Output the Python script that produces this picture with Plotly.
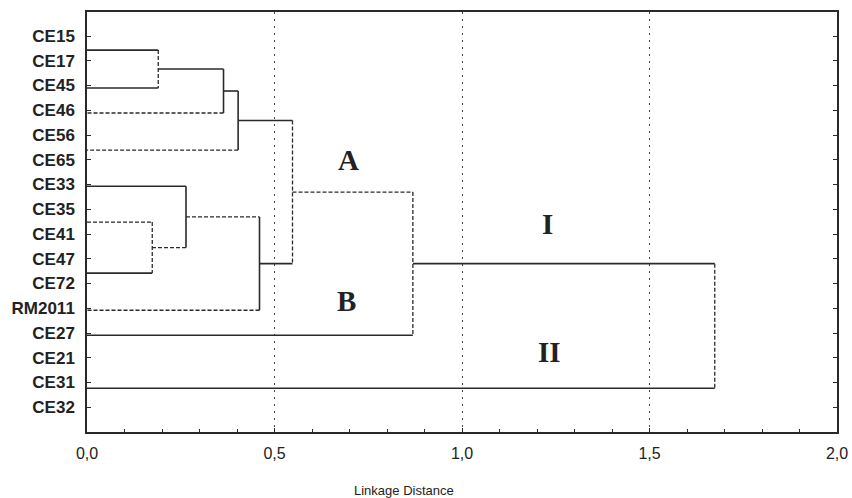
import plotly.graph_objects as go

# ---- data ----
labels = ["CE15", "CE17", "CE45", "CE46", "CE56", "CE65", "CE33", "CE35",
          "CE41", "CE47", "CE72", "RM2011", "CE27", "CE21", "CE31", "CE32"]
# rows (in label-index units) at which the drawn leaf branches sit
leaf_rows = [0.57, 2.10, 3.11, 4.61, 6.07, 7.52, 9.58, 11.08, 12.09, 14.23]
merge_left = ["L0", "M0", "M1", "L5", "L4", "M4", "M2", "M6", "M7"]
merge_right = ["L1", "L2", "L3", "L6", "M3", "L7", "M5", "L8", "L9"]
merge_height = [0.19, 0.364, 0.403, 0.174, 0.264, 0.46, 0.548, 0.869, 1.674]
left_style = ["solid", "solid", "solid", "dash", "solid", "dash", "solid", "dash", "solid"]
vert_style = ["dash", "solid", "solid", "dash", "solid", "solid", "dash", "dash", "dash"]
right_style = ["solid", "dash", "dash", "solid", "dash", "dash", "solid", "solid", "solid"]
x_ticks = [0.0, 0.5, 1.0, 1.5, 2.0]
x_ticktext = ["0,0", "0,5", "1,0", "1,5", "2,0"]
group_text = ["A", "B", "I", "II"]
group_x = [0.696, 0.693, 1.229, 1.232]
group_y = [5.01, 10.72, 7.60, 12.78]

# ---- build dendrogram segments ----
nodes = {f"L{i}": (0.0, r) for i, r in enumerate(leaf_rows)}
segs = {"solid": ([], []), "dash": ([], [])}


def add(style, x0, y0, x1, y1):
    xs, ys = segs[style]
    xs += [x0, x1, None]
    ys += [y0, y1, None]


for i, (l, r, h) in enumerate(zip(merge_left, merge_right, merge_height)):
    hl, yl = nodes[l]
    hr, yr = nodes[r]
    add(left_style[i], hl, yl, h, yl)
    add(vert_style[i], h, yl, h, yr)
    add(right_style[i], h, yr, hr, yr)
    nodes[f"M{i}"] = (h, (yl + yr) / 2)

ink = "#2a2a2a"
fig = go.Figure()
fig.add_trace(go.Scatter(x=segs["solid"][0], y=segs["solid"][1], mode="lines",
                         line=dict(color=ink, width=1.6), hoverinfo="skip"))
fig.add_trace(go.Scatter(x=segs["dash"][0], y=segs["dash"][1], mode="lines",
                         line=dict(color=ink, width=1.3, dash="4px,2px"), hoverinfo="skip"))

for t, gx, gy in zip(group_text, group_x, group_y):
    fig.add_annotation(x=gx, y=gy, xref="x", yref="y", text=f"<b>{t}</b>", showarrow=False,
                       font=dict(family="Liberation Serif", size=29, color="#222"))

W, H = 852, 498
L, R, T, B = 87, 15, 12, 66
fig.add_annotation(x=(404 - L) / (W - L - R), y=-(490 - (H - B)) / (H - T - B),
                   xref="paper", yref="paper", text="Linkage Distance",
                   xanchor="center", yanchor="middle",
                   showarrow=False, font=dict(family="Liberation Sans", size=13, color="#222"))

fig.update_layout(
    width=W, height=H,
    margin=dict(l=L, r=R, t=T, b=B, autoexpand=False),
    paper_bgcolor="white", plot_bgcolor="white",
    showlegend=False,
    xaxis=dict(range=[0, 2.0], tickvals=x_ticks, ticktext=x_ticktext, automargin=False,
               ticks="inside", ticklen=4, tickcolor=ink, ticklabelstandoff=6,
               minor=dict(dtick=0.1, ticks="inside", ticklen=3, tickcolor=ink),
               showline=True, linecolor=ink, linewidth=1.5, mirror=True,
               showgrid=True, gridcolor="#444", griddash="2px,5px", gridwidth=1.3,
               zeroline=False,
               tickfont=dict(family="Liberation Sans", size=16, color="#222")),
    yaxis=dict(range=[16.0, -0.97], tickvals=list(range(len(labels))), ticktext=labels,
               automargin=False,
               ticks="inside", ticklen=4, tickcolor=ink, ticklabelstandoff=7,
               showline=True, linecolor=ink, linewidth=1.5, mirror="ticks",
               showgrid=False, zeroline=False,
               tickfont=dict(family="Liberation Sans", size=17, color="#222", weight="bold")),
)

# remove the default 8px page margin so the figure fills the window exactly
fig.write_html("out.html", config={"displayModeBar": False},
               post_script="document.body.style.margin='0';document.body.style.overflow='hidden';")
